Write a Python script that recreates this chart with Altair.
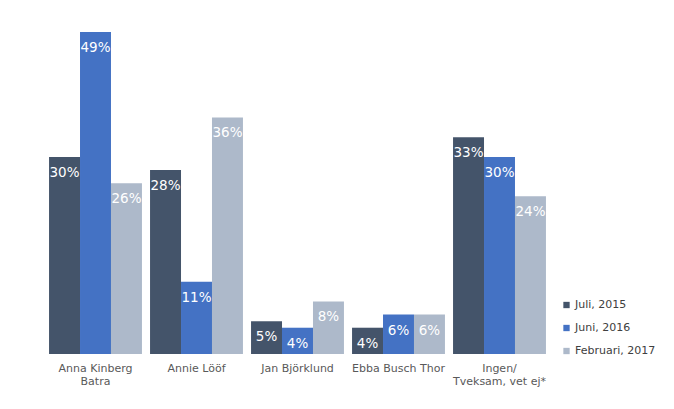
import altair as alt
import pandas as pd

categories = ["Anna Kinberg|Batra", "Annie Lööf", "Jan Björklund", "Ebba Busch Thor", "Ingen/|Tveksam, vet ej*"]
series = ["Juli, 2015", "Juni, 2016", "Februari, 2017"]
values_2015 = [30, 28, 5, 4, 33]
values_2016 = [49, 11, 4, 6, 30]
values_2017 = [26, 36, 8, 6, 24]
colors = ["#44546a", "#4472c4", "#adb9ca"]

rows = []
for s, vals in zip(series, [values_2015, values_2016, values_2017]):
    for c, v in zip(categories, vals):
        rows.append({"kandidat": c, "period": s, "value": v, "label": f"{v}%"})
df = pd.DataFrame(rows)

x = alt.X("kandidat:N", sort=categories, title=None,
          scale=alt.Scale(paddingInner=0.08, paddingOuter=0.04),
          axis=alt.Axis(labelAngle=0, ticks=False, domain=False, grid=False,
                        labelExpr="split(datum.label, '|')", labelFontSize=11,
                        labelColor="#595959", labelPadding=8, labelLineHeight=13,
                        labelFont="DejaVu Sans"))
xo = alt.XOffset("period:N", sort=series, scale=alt.Scale(paddingInner=0, paddingOuter=0))
y = alt.Y("value:Q", scale=alt.Scale(domain=[0, 50], nice=False), axis=None)
color = alt.Color("period:N", sort=series,
                  scale=alt.Scale(domain=series, range=colors),
                  legend=alt.Legend(title=None, orient="none", legendX=516, legendY=274,
                                    symbolType="square", symbolSize=40, labelFontSize=11,
                                    labelColor="#404040", labelFont="DejaVu Sans",
                                    rowPadding=11, labelOffset=3, padding=0,
                                    symbolStrokeWidth=0))

bars = alt.Chart(df).mark_bar().encode(x=x, xOffset=xo, y=y, color=color)
text = alt.Chart(df).mark_text(color="white", fontSize=13.5, font="DejaVu Sans",
                               baseline="middle", dy=16).encode(
    x=x, xOffset=xo, y=y, text="label:N")

chart = (bars + text).properties(
    width=505, height=328.5,
    background="white",
    autosize=alt.AutoSizeParams(type="none"),
    padding={"left": 37, "top": 17.5, "right": 116, "bottom": 47},
).configure_view(stroke=None, strokeWidth=0)

chart.save("out.html", embed_options={"renderer": "svg", "actions": False})
